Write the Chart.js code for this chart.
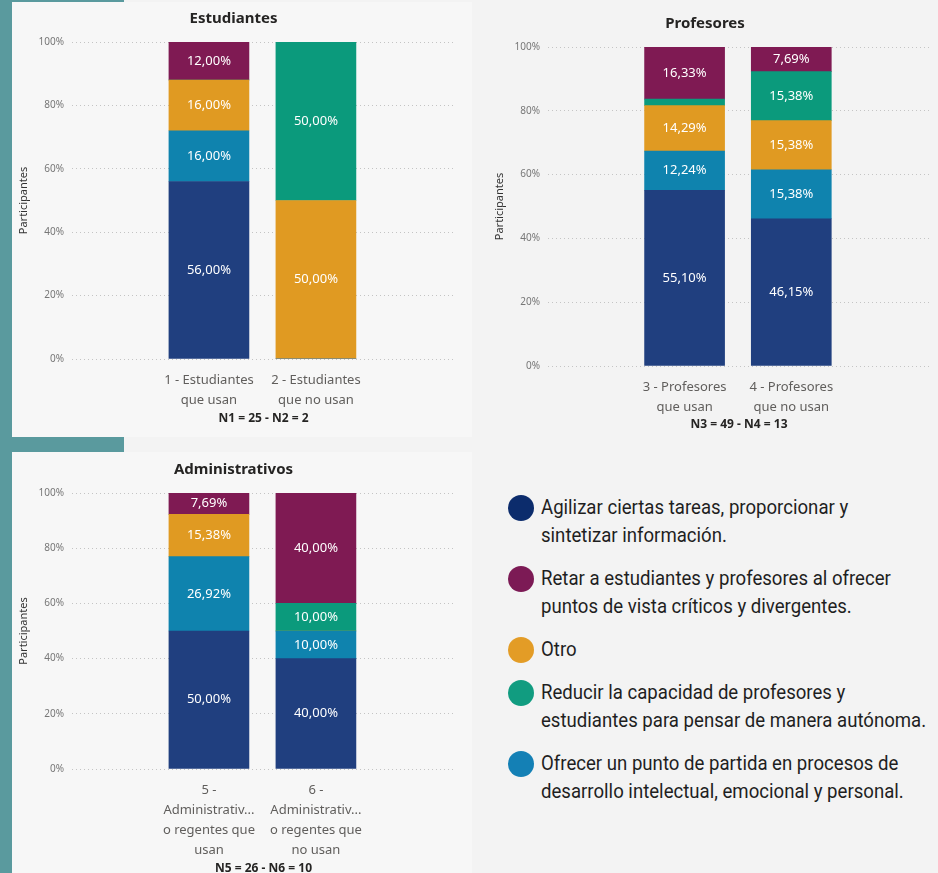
<!DOCTYPE html>
<html lang="es">
<head>
<meta charset="utf-8">
<script src="https://cdn.jsdelivr.net/npm/chart.js@4.4.1/dist/chart.umd.min.js"></script>
<style>
    body {
        margin: 0;
        width: 938px;
        height: 873px;
        position: relative;
        overflow: hidden;
        background: #f3f3f3;
        font-family: "Noto Sans", sans-serif;
    }
    .franja { position: absolute; background: #5a9a9e; }
    .panel { position: absolute; background: #f7f7f7; }
    canvas { position: absolute; }
    #leyenda {
        position: absolute;
        left: 508px;
        top: 493px;
        font-family: Roboto, sans-serif;
        font-size: 20px;
        line-height: 28px;
        color: #1f1f1f;
    }
    .item { position: relative; padding-left: 33px; margin-bottom: 15px; }
    .item span { display: inline-block; transform: scaleX(0.93); transform-origin: left; white-space: nowrap; }
    .punto {
        position: absolute;
        left: 0;
        top: 2px;
        width: 26px;
        height: 26px;
        border-radius: 50%;
    }
</style>
</head>
<body>
<div class="franja" style="left:0;top:0;width:12px;height:873px"></div>
<div class="franja" style="left:0;top:0;width:124px;height:2px"></div>
<div class="franja" style="left:0;top:437px;width:124px;height:15px"></div>
<div class="panel" style="left:12px;top:2px;width:460px;height:435px"></div>
<div class="panel" style="left:12px;top:452px;width:460px;height:421px"></div>

<canvas id="graf-estudiantes" width="458" height="433" style="left:12px;top:3px"></canvas>
<canvas id="graf-profesores" width="458" height="437" style="left:480px;top:3px"></canvas>
<canvas id="graf-administrativos" width="458" height="421" style="left:12px;top:452px"></canvas>
<div id="leyenda"></div>

<script>
// === Datos ===
const series = [
    "Agilizar ciertas tareas, proporcionar y sintetizar información.",
    "Ofrecer un punto de partida en procesos de desarrollo intelectual, emocional y personal.",
    "Otro",
    "Reducir la capacidad de profesores y estudiantes para pensar de manera autónoma.",
    "Retar a estudiantes y profesores al ofrecer puntos de vista críticos y divergentes.",
];
const colores = ["#203f7f", "#0f83ae", "#e09a22", "#0b9a7c", "#7f1a53"];

const categoriasEstudiantes = [
    ["1 - Estudiantes", "que usan"],
    ["2 - Estudiantes", "que no usan"],
];
const categoriasProfesores = [
    ["3 - Profesores", "que usan"],
    ["4 - Profesores", "que no usan"],
];
const categoriasAdministrativos = [
    ["5 -", "Administrativ...", "o regentes que", "usan"],
    ["6 -", "Administrativ...", "o regentes que", "no usan"],
];

// orden: Agilizar, Ofrecer, Otro, Reducir, Retar
const estAgilizar = [56.0, 0];
const estOfrecer = [16.0, 0];
const estOtro = [16.0, 50.0];
const estReducir = [0, 50.0];
const estRetar = [12.0, 0];

const profAgilizar = [55.1, 46.15];
const profOfrecer = [12.24, 15.38];
const profOtro = [14.29, 15.38];
const profReducir = [2.04, 15.38];
const profRetar = [16.33, 7.69];

const admAgilizar = [50.0, 40.0];
const admOfrecer = [26.92, 10.0];
const admOtro = [15.38, 0];
const admReducir = [0, 10.0];
const admRetar = [7.69, 40.0];

const ticksY = [0, 20, 40, 60, 80, 100];

// orden de la leyenda
const ordenLeyenda = [
    ["Agilizar ciertas tareas, proporcionar y", "sintetizar información."],
    ["Retar a estudiantes y profesores al ofrecer", "puntos de vista críticos y divergentes."],
    ["Otro"],
    ["Reducir la capacidad de profesores y", "estudiantes para pensar de manera autónoma."],
    ["Ofrecer un punto de partida en procesos de", "desarrollo intelectual, emocional y personal."],
];
const coloresLeyenda = ["#0c2c6c", "#7c1a55", "#e39c26", "#119c80", "#1480b5"];

// === Etiquetas dentro de las barras ===
const etiquetasBarras = {
    id: "etiquetasBarras",
    afterDatasetsDraw(chart) {
        const ctx = chart.ctx;
        ctx.save();
        ctx.font = "13px 'Noto Sans'";
        ctx.fillStyle = "#fff";
        ctx.textAlign = "center";
        ctx.textBaseline = "middle";
        chart.data.datasets.forEach((ds, i) => {
            chart.getDatasetMeta(i).data.forEach((barra, j) => {
                const v = ds.data[j];
                if (!v || v < 5) return;
                const y = (barra.y + barra.base) / 2;
                ctx.fillText(v.toFixed(2).replace(".", ",") + "%", barra.x, y);
            });
        });
        ctx.restore();
    },
};

function crearGrafica(id, titulo, categorias, valores, textoN, geo) {
    const ctx = document.getElementById(id).getContext("2d");
    return new Chart(ctx, {
        type: "bar",
        data: {
            labels: categorias.map((_, i) => i),
            datasets: valores.map((datos, k) => ({
                label: series[k],
                data: datos,
                backgroundColor: colores[k],
                borderWidth: 0,
                barThickness: 80,
                stack: "total",
            })),
        },
        options: {
            responsive: false,
            animation: false,
            layout: { padding: { right: geo.derecha } },
            plugins: {
                legend: { display: false },
                tooltip: { enabled: false },
                title: {
                    display: true,
                    text: titulo,
                    color: "#252423",
                    font: { family: "Noto Sans", size: 15, weight: "bold" },
                    padding: { top: geo.tituloTop, bottom: 14 },
                },
            },
            scales: {
                x: {
                    type: "linear",
                    offset: false,
                    min: -1.28,
                    max: 2.3,
                    grid: { display: false, drawTicks: false, offset: false },
                    border: { display: false },
                    afterBuildTicks: (eje) => {
                        eje.ticks = categorias.map((_, i) => ({ value: i }));
                    },
                    afterFit: (eje) => {
                        eje.height = geo.altoX;
                    },
                    ticks: {
                        color: "#605e5c",
                        padding: 11,
                        minRotation: 0,
                        maxRotation: 0,
                        autoSkip: false,
                        font: { family: "Noto Sans", size: 13, lineHeight: 1.54 },
                        callback: (v, i) => categorias[i],
                    },
                    title: {
                        display: true,
                        text: textoN,
                        color: "#252423",
                        font: { family: "Noto Sans", size: 12, weight: "bold", lineHeight: 1 },
                        padding: { top: 0, bottom: geo.nPad },
                    },
                },
                y: {
                    stacked: true,
                    min: 0,
                    max: 100,
                    afterBuildTicks: (eje) => {
                        eje.ticks = ticksY.map((v) => ({ value: v }));
                    },
                    afterFit: (eje) => {
                        eje.width = geo.anchoY;
                    },
                    grid: { color: "#c4c4c4", drawTicks: false, lineWidth: 1 },
                    border: { display: false, dash: [1, 3] },
                    ticks: {
                        color: "#777",
                        padding: 8,
                        font: { family: "Noto Sans", size: 10 },
                        callback: (v) => v + "%",
                    },
                    title: {
                        display: true,
                        text: "Participantes",
                        color: "#333",
                        font: { family: "Noto Sans", size: 11 },
                        padding: { top: geo.tituloYPad, bottom: 0 },
                    },
                },
            },
        },
        plugins: [etiquetasBarras],
    });
}

document.addEventListener("DOMContentLoaded", () => {
    crearGrafica(
        "graf-estudiantes",
        "Estudiantes",
        categoriasEstudiantes,
        [estAgilizar, estOfrecer, estOtro, estReducir, estRetar],
        "N1 = 25 - N2 = 2",
        { anchoY: 60, tituloYPad: 5, altoX: 77, tituloTop: 7, nPad: 11, derecha: 15 }
    );
    crearGrafica(
        "graf-profesores",
        "Profesores",
        categoriasProfesores,
        [profAgilizar, profOfrecer, profOtro, profReducir, profRetar],
        "N3 = 49 - N4 = 13",
        { anchoY: 68, tituloYPad: 13, altoX: 74, tituloTop: 12, nPad: 9, derecha: 8 }
    );
    crearGrafica(
        "graf-administrativos",
        "Administrativos",
        categoriasAdministrativos,
        [admAgilizar, admOfrecer, admOtro, admReducir, admRetar],
        "N5 = 26 - N6 = 10",
        { anchoY: 60, tituloYPad: 5, altoX: 104, tituloTop: 9, nPad: -2, derecha: 15 }
    );

    // === Leyenda ===
    const leyenda = document.getElementById("leyenda");
    ordenLeyenda.forEach((lineas, i) => {
        const item = document.createElement("div");
        item.className = "item";
        item.innerHTML =
            `<div class="punto" style="background:${coloresLeyenda[i]}"></div>` +
            lineas.map((l) => `<span>${l}</span>`).join("<br>");
        leyenda.appendChild(item);
    });
});
</script>
</body>
</html>
